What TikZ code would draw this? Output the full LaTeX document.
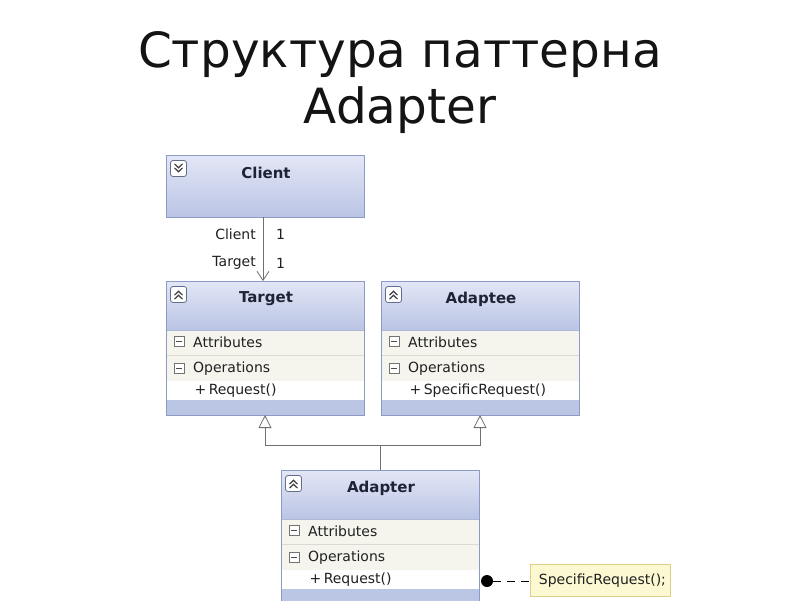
\documentclass[tikz,border=0pt]{standalone}
\usepackage{fontspec}
\setmainfont{DejaVu Sans}
\usetikzlibrary{arrows.meta,calc}
\definecolor{hdrtop}{HTML}{E3E7F6}
\definecolor{hdrbot}{HTML}{BAC4E4}
\definecolor{framec}{HTML}{8C9AC6}
\definecolor{stripc}{HTML}{BBC5E4}
\definecolor{rowc}{HTML}{F5F5EE}
\definecolor{sepc}{HTML}{DADAD2}
\definecolor{titlec}{HTML}{1E2438}
\definecolor{txtc}{HTML}{202020}
\definecolor{notefill}{HTML}{FCF9D2}
\definecolor{notedraw}{HTML}{DCCF8A}
\definecolor{linec}{HTML}{707070}
\tikzset{
  boxframe/.style={draw=framec, line width=0.9pt, inner sep=0pt, outer sep=0pt, anchor=north west},
  clstitle/.style={font=\fontsize{15}{17}\selectfont\bfseries, text=titlec, inner sep=0pt},
  rowtext/.style={font=\fontsize{14}{16}\selectfont, text=txtc, inner sep=0pt, anchor=west},
  iconbox/.style={draw=framec!70!black, fill=white, rounded corners=2.5pt, minimum size=16pt, inner sep=0pt, line width=0.8pt},
  minusbox/.style={draw=black!55, fill=white, minimum size=10pt, inner sep=0pt, line width=0.6pt},
  assoc/.style={draw=linec, line width=0.8pt},
  inherit/.style={draw=linec, line width=0.8pt},
  lbl/.style={font=\fontsize{14}{16}\selectfont, text=txtc, inner sep=0pt},
  notebox/.style={draw=notedraw, fill=notefill, line width=0.8pt, minimum width=140pt, minimum height=32pt, inner sep=0pt, font=\fontsize{14}{16}\selectfont, text=txtc},
}
\newcommand\chevup[1]{%
  \draw[line width=1.2pt, black!75] ($(#1)+(-4,0.6)$) -- ($(#1)+(0,-3.2)$) -- ($(#1)+(4,0.6)$);
  \draw[line width=1.2pt, black!75] ($(#1)+(-4,4.6)$) -- ($(#1)+(0,0.8)$) -- ($(#1)+(4,4.6)$);}
\newcommand\chevdown[1]{%
  \draw[line width=1.2pt, black!75] ($(#1)+(-4,-4.6)$) -- ($(#1)+(0,-0.8)$) -- ($(#1)+(4,-4.6)$);
  \draw[line width=1.2pt, black!75] ($(#1)+(-4,-0.6)$) -- ($(#1)+(0,3.2)$) -- ($(#1)+(4,-0.6)$);}
\newcommand\minusicon[1]{%
  \node[minusbox] at (#1) {};
  \draw[line width=0.8pt, black!70] ($(#1)+(-2.8,0)$) -- ($(#1)+(2.8,0)$);}
% #1 node name, #2 position, #3 title, #4 method, #5 total height
\newcommand\umlclass[5]{%
  \begin{scope}[shift={#2}]
    \shade[top color=hdrtop, bottom color=hdrbot] (0,0) rectangle (198,49);
    \fill[rowc] (0,49) rectangle (198,100);
    \fill[white] (0,100) rectangle (198,119);
    \fill[stripc] (0,119) rectangle (198,#5);
    \draw[sepc, line width=0.7pt] (0,74.5) -- (198,74.5);
    \draw[framec!70, line width=0.6pt] (0,49) -- (198,49);
    \node[iconbox] (#1icon) at (12.5,13.5) {};
    \chevup{#1icon}
    \node[clstitle] (#1title) at (100,18) {#3};
    \coordinate (#1ma) at (13,60.5);
    \minusicon{#1ma}
    \node[rowtext] (#1attr) at (27,61) {Attributes};
    \coordinate (#1mo) at (13,87);
    \minusicon{#1mo}
    \node[rowtext] (#1oper) at (27,87.5) {Operations};
    \node[rowtext] (#1meth) at (28.5,110) {+\,#4};
    \node[boxframe, minimum width=198pt, minimum height=#5pt] (#1) at (0,0) {};
  \end{scope}}
\begin{document}
\begin{tikzpicture}[x=1pt,y=-1pt]
\useasboundingbox[fill=white] (0,0) rectangle (800,600);
% title
\node[font=\fontsize{48.5}{56}\selectfont, text=black!92, anchor=base, inner sep=0pt] (title1) at (400,67) {Структура паттерна};
\node[font=\fontsize{48.5}{56}\selectfont, text=black!92, anchor=base, inner sep=0pt] (title2) at (400,123) {Adapter};
% Client
\begin{scope}[shift={(166,155)}]
  \shade[top color=hdrtop, bottom color=hdrbot] (0,0) rectangle (198,62);
  \node[iconbox] (clienticon) at (12.5,13.5) {};
  \chevdown{clienticon}
  \node[clstitle] (clienttitle) at (100,18) {Client};
  \node[boxframe, minimum width=198pt, minimum height=62pt] (client) at (0,0) {};
\end{scope}
% classes
\umlclass{target}{(166,281)}{Target}{Request()}{134}
\umlclass{adaptee}{(381,281)}{Adaptee}{SpecificRequest()}{134}
\umlclass{adapter}{(281,470)}{Adapter}{Request()}{140}
% association
\draw[assoc, -{Straight Barb[length=9pt,width=12pt,line width=0.8pt]}] ([xshift=-2pt]client.south) -- ([xshift=-2pt]target.north);
\node[lbl, anchor=east] (lc) at (256,234) {Client};
\node[lbl, anchor=west] (lc1) at (276,234) {1};
\node[lbl, anchor=east] (lt) at (256,263) {Target};
\node[lbl, anchor=west] (lt1) at (276,263) {1};
% inheritance
\coordinate (join) at (adapter.north |- 0,445);
\draw[inherit] (adapter.north) -- (join);
\draw[inherit, -{Triangle[open, length=13pt, width=13pt, fill=white, line width=0.8pt]}] (join) -| (target.south);
\draw[inherit, -{Triangle[open, length=13pt, width=13pt, fill=white, line width=0.8pt]}] (join) -| (adaptee.south);
% note
\node[circle, fill=black, minimum size=12pt, inner sep=0pt] (dot) at (487,581) {};
\node[notebox, anchor=north west] (note) at (530,564) {\hspace*{4pt}SpecificRequest();};
\draw[black, line width=0.9pt, dash pattern=on 8pt off 6pt] (dot.east) -- (note.west |- dot.east);
\end{tikzpicture}
\end{document}
